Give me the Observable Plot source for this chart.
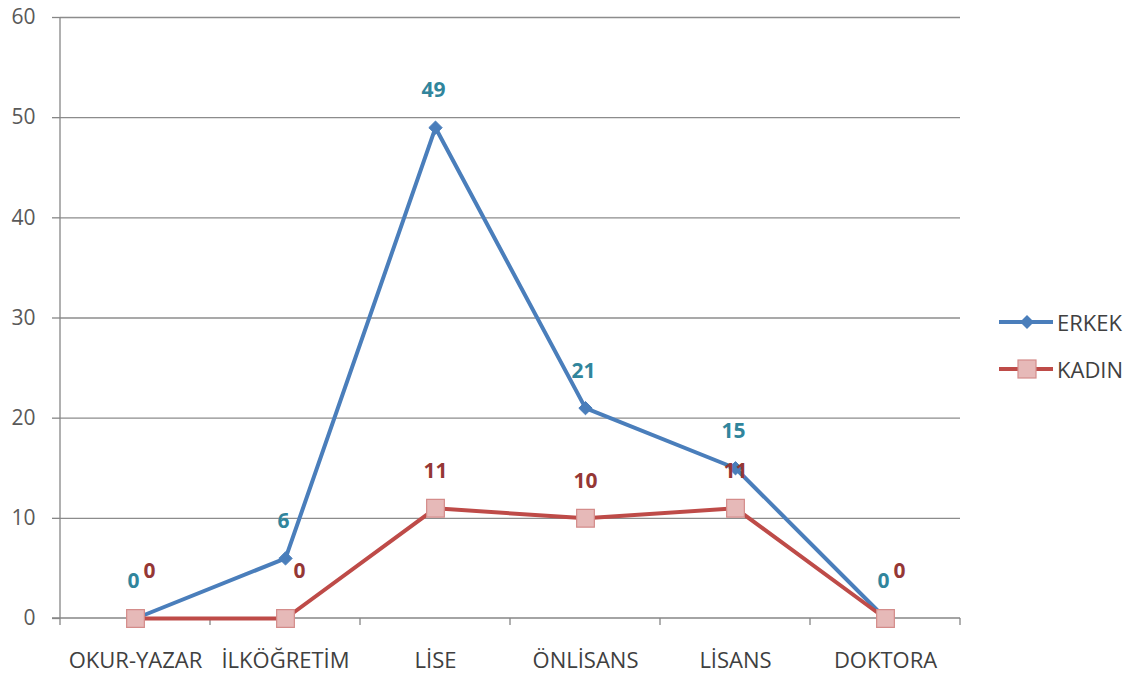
<!DOCTYPE html>
<html>
<head>
<meta charset="utf-8">
<script src="https://cdn.jsdelivr.net/npm/d3@7"></script>
<script src="https://cdn.jsdelivr.net/npm/@observablehq/plot@0.6"></script>
<style>
  body { margin: 0; background: #fff; }
  #wrap { position: relative; width: 1138px; height: 682px; font-family: "Open Sans", sans-serif; }
  #legend { position: absolute; left: 998px; top: 298px; color: #404040; font-size: 22px; }
  .li { display: flex; align-items: center; height: 47px; }
  .li svg { margin-right: 3px; }
</style>
</head>
<body>
<div id="wrap"><div id="legend"></div></div>
<script>
const categories = ["OKUR-YAZAR", "İLKÖĞRETİM", "LİSE", "ÖNLİSANS", "LİSANS", "DOKTORA"];
const erkek = [0, 6, 49, 21, 15, 0];
const kadin = [0, 0, 11, 10, 11, 0];
const yTicks = [0, 10, 20, 30, 40, 50, 60];
const seriesNames = ["ERKEK", "KADIN"];

const blue = "#4A7EBB", red = "#BE4B48";
const erkekData = categories.map((c, i) => ({cat: c, v: erkek[i]}));
const kadinData = categories.map((c, i) => ({cat: c, v: kadin[i]}));

const font = "Open Sans, sans-serif";

function boundaryTicks(index, scales, values, dims) {
  const g = d3.create("svg:g");
  const x = scales.x, y = scales.y;
  const step = x(categories[1]) - x(categories[0]);
  const xs = categories.map(c => x(c) - step / 2).concat([x(categories[categories.length - 1]) + step / 2]);
  const y0 = y(0);
  g.append("line").attr("x1", dims.marginLeft).attr("x2", dims.marginLeft)
    .attr("y1", dims.marginTop).attr("y2", y0).attr("stroke", "#868686").attr("stroke-width", 1.3);
  g.append("line").attr("x1", dims.marginLeft - 8).attr("x2", dims.width - dims.marginRight)
    .attr("y1", y0).attr("y2", y0).attr("stroke", "#868686").attr("stroke-width", 1.3);
  for (const xv of xs) {
    g.append("line").attr("x1", xv).attr("x2", xv).attr("y1", y0).attr("y2", y0 + 7)
      .attr("stroke", "#868686").attr("stroke-width", 1.3);
  }
  return g.node();
}

const chart = Plot.plot({
  width: 1138,
  height: 682,
  marginLeft: 60,
  marginRight: 178,
  marginTop: 17,
  marginBottom: 64,
  style: {fontFamily: font, background: "#fff"},
  x: {type: "point", domain: categories, padding: 0.5},
  y: {domain: [0, 60]},
  marks: [
    Plot.ruleY(yTicks.filter(d => d > 0), {stroke: "#8C8C8C", strokeWidth: 1.3, strokeOpacity: 1}),
    Plot.axisY({ticks: yTicks, tickSize: 8, tickPadding: 17, stroke: "#868686", strokeWidth: 1.3, strokeOpacity: 1,
      fill: "#595959", fontSize: 21, label: null}),
    Plot.axisX({tickSize: 0, tickPadding: 34, fill: "#404040", fontSize: 22, label: null}),
    boundaryTicks,
    Plot.line(erkekData, {x: "cat", y: "v", stroke: blue, strokeWidth: 4}),
    Plot.line(kadinData, {x: "cat", y: "v", stroke: red, strokeWidth: 4}),
    Plot.dot(erkekData, {x: "cat", y: "v", symbol: "diamond2", r: 6, fill: blue, stroke: blue, strokeWidth: 1}),
    Plot.dot(kadinData, {x: "cat", y: "v", symbol: "square", r: 10, fill: "#E6B9B8", stroke: "#D48C8A", strokeWidth: 1.2}),
    Plot.text(erkekData, {x: "cat", y: "v", text: d => String(d.v), dy: -37, dx: -2, fill: "#31859C", fontWeight: "bold", fontSize: 21}),
    Plot.text(kadinData.filter(d => d.v !== 0), {x: "cat", y: "v", text: d => String(d.v), dy: -37, fill: "#953735", fontWeight: "bold", fontSize: 21}),
    Plot.text(kadinData.filter(d => d.v === 0), {x: "cat", y: "v", text: d => String(d.v), dy: -47, dx: 14, fill: "#953735", fontWeight: "bold", fontSize: 21})
  ]
});

document.getElementById("wrap").prepend(chart);

const legend = document.getElementById("legend");
seriesNames.forEach((name, i) => {
  const row = document.createElement("div");
  row.className = "li";
  const col = i === 0 ? blue : red;
  const marker = i === 0
    ? `<path d="M29,3 L36,10 L29,17 L22,10 Z" fill="${blue}"/>`
    : `<rect x="20" y="1" width="18" height="18" fill="#E6B9B8" stroke="#D48C8A" stroke-width="1.2"/>`;
  row.innerHTML = `<svg width="56" height="20"><line x1="1" x2="55" y1="10" y2="10" stroke="${col}" stroke-width="4"/>${marker}</svg><span>${name}</span>`;
  legend.appendChild(row);
});
</script>
</body>
</html>
